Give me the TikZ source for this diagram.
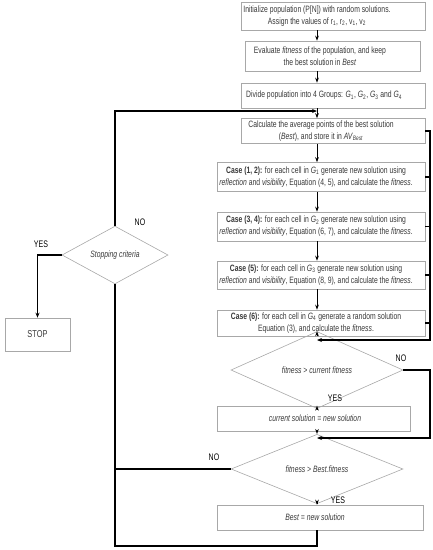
\documentclass[tikz,border=0pt]{standalone}
\usepackage{fontspec}
\setmainfont{Liberation Sans}[FakeStretch=0.74]
\usetikzlibrary{shapes.geometric,arrows.meta}
\definecolor{boxgray}{HTML}{A8A8A8}
\definecolor{txtgray}{HTML}{383838}
\tikzset{
  box/.style={draw=boxgray, line width=0.6pt, inner sep=0pt},
  txt/.style={align=center, inner sep=0pt, text=txtgray, font=\fontsize{9.2}{12}\selectfont},
  dia/.style={diamond, draw=boxgray, line width=0.6pt, inner sep=0pt, text=txtgray, font=\fontsize{9.2}{11}\selectfont},
  flow/.style={-{Stealth[length=5pt,width=3.6pt]}, line width=0.9pt},
  backline/.style={line width=1.2pt},
  backarrow/.style={line width=1.2pt, -{Stealth[length=5pt,width=4pt]}},
  lbl/.style={inner sep=0pt, font=\fontsize{9.5}{10}\selectfont, text=black}
}
\begin{document}
\begin{tikzpicture}[x=1pt,y=-1pt]
\useasboundingbox (0,0) rectangle (433,550);
\coordinate (cx) at (317,0);
\coordinate (rx) at (430,0);
% boxes
\node[box, minimum width=184pt, minimum height=28pt] (init) at (333,16) {};
\node[txt] (initT) at (317,16) {Initialize population (P[N]) with random solutions.\\Assign the values of r\textsubscript{1}, r\textsubscript{2}, v\textsubscript{1}, v\textsubscript{2}};
\node[box, minimum width=175pt, minimum height=30pt] (eval) at (332.5,56) {};
\node[txt] (evalT) at (320,56) {Evaluate \textit{fitness} of the population, and keep\\the best solution in \textit{Best}};
\node[box, minimum width=184pt, minimum height=25pt] (divide) at (333,95.5) {};
\node[txt, anchor=west] (divideT) at (246,95.5) {Divide population into 4 Groups: \textit{G}\textsubscript{1}, \textit{G}\textsubscript{2}, \textit{G}\textsubscript{3} and \textit{G}\textsubscript{4}};
\node[box, minimum width=184pt, minimum height=25pt] (calc) at (333,131) {};
\node[txt] (calcT) at (321,131) {Calculate the average points of the best solution\\(\textit{Best}), and store it in \textit{AV}\textsubscript{\textit{Best}}};
\node[box, minimum width=208pt, minimum height=29pt] (c12) at (321,177) {};
\node[txt] (c12T) at (316,177) {\textbf{Case (1, 2):} for each cell in \textit{G}\textsubscript{1} generate new solution using\\\textit{reflection} and \textit{visibility}, Equation (4, 5), and calculate the \textit{fitness}.};
\node[box, minimum width=208pt, minimum height=29pt] (c34) at (321,226.5) {};
\node[txt] (c34T) at (316,226.5) {\textbf{Case (3, 4):} for each cell in \textit{G}\textsubscript{2} generate new solution using\\\textit{reflection} and \textit{visibility}, Equation (6, 7), and calculate the \textit{fitness}.};
\node[box, minimum width=208pt, minimum height=28pt] (c5) at (321,275) {};
\node[txt] (c5T) at (316,275) {\textbf{Case (5):} for each cell in \textit{G}\textsubscript{3} generate new solution using\\\textit{reflection} and \textit{visibility}, Equation (8, 9), and calculate the \textit{fitness}.};
\node[box, minimum width=208pt, minimum height=26pt] (c6) at (321,323) {};
\node[txt] (c6T) at (316,323) {\textbf{Case (6):} for each cell in \textit{G}\textsubscript{4} generate a random solution\\Equation (3), and calculate the \textit{fitness}.};
\node[dia, minimum width=172pt, minimum height=42pt] (d1) at (317,370) {\textit{fitness > current fitness}};
\node[box, minimum width=193pt, minimum height=25pt] (cur) at (313.5,418.5) {};
\node[txt] (curT) at (315,418.5) {\textit{current solution = new solution}};
\node[dia, minimum width=172pt, minimum height=42pt] (d2) at (317,469) {\textit{fitness > Best.fitness}};
\node[box, minimum width=206pt, minimum height=25pt] (best) at (320,517.5) {};
\node[txt] (bestT) at (315,517.5) {\textit{Best = new solution}};
\node[dia, minimum width=106pt, minimum height=42pt] (sc) at (115,255) {\textit{Stopping criteria}};
\node[box, minimum width=65pt, minimum height=33pt] (stop) at (37.5,334.5) {};
\node[txt, font=\fontsize{10}{12}\selectfont] (stopT) at (37.5,334.5) {STOP};
% junctions
\coordinate (j0) at (317,111);
\coordinate (j1) at (317,340);
\coordinate (j2) at (317,438);
\coordinate (bot) at (317,546);
% main flow
\draw[flow] (init.south -| cx) -- (eval.north -| cx);
\draw[flow] (eval.south -| cx) -- (divide.north -| cx);
\draw[flow] (divide.south -| cx) -- (calc.north -| cx);
\draw[flow] (calc.south -| cx) -- (c12.north -| cx);
\draw[flow] (c12.south -| cx) -- (c34.north -| cx);
\draw[flow] (c34.south -| cx) -- (c5.north -| cx);
\draw[flow] (c5.south -| cx) -- (c6.north -| cx);
\draw[flow] (c6.south -| cx) -- (d1.north);
\draw[flow] (d1.south) -- (cur.north -| cx);
\draw[flow] (cur.south -| cx) -- (d2.north);
\draw[flow] (d2.south) -- (best.north -| cx);
% right loop
\draw[backarrow] (calc.east) -| (rx |- j1) -- (j1);
\draw[backline] (c12.east) -- (c12.east -| rx);
\draw[backline] (c34.east) -- (c34.east -| rx);
\draw[backline] (c5.east) -- (c5.east -| rx);
\draw[backline] (c6.east) -- (c6.east -| rx);
% NO loop of d1
\draw[backarrow] (d1.east) -| (rx |- j2) -- (j2);
% NO of d2 and bottom loop
\draw[backline] (d2.west) -- (d2.west -| sc.south);
\draw[backline] (best.south -| cx) -- (bot) -| (sc.south);
\draw[backarrow] (sc.north) |- (j0);
\draw[backarrow] (sc.west) -| (stop.north);
% labels
\node[lbl] (no0) at (140,222) {NO};
\node[lbl] (yes0) at (41,244) {YES};
\node[lbl] (no1) at (401,358) {NO};
\node[lbl] (yes1) at (335,398) {YES};
\node[lbl] (no2) at (214,457) {NO};
\node[lbl] (yes2) at (338,500) {YES};
\end{tikzpicture}
\end{document}
